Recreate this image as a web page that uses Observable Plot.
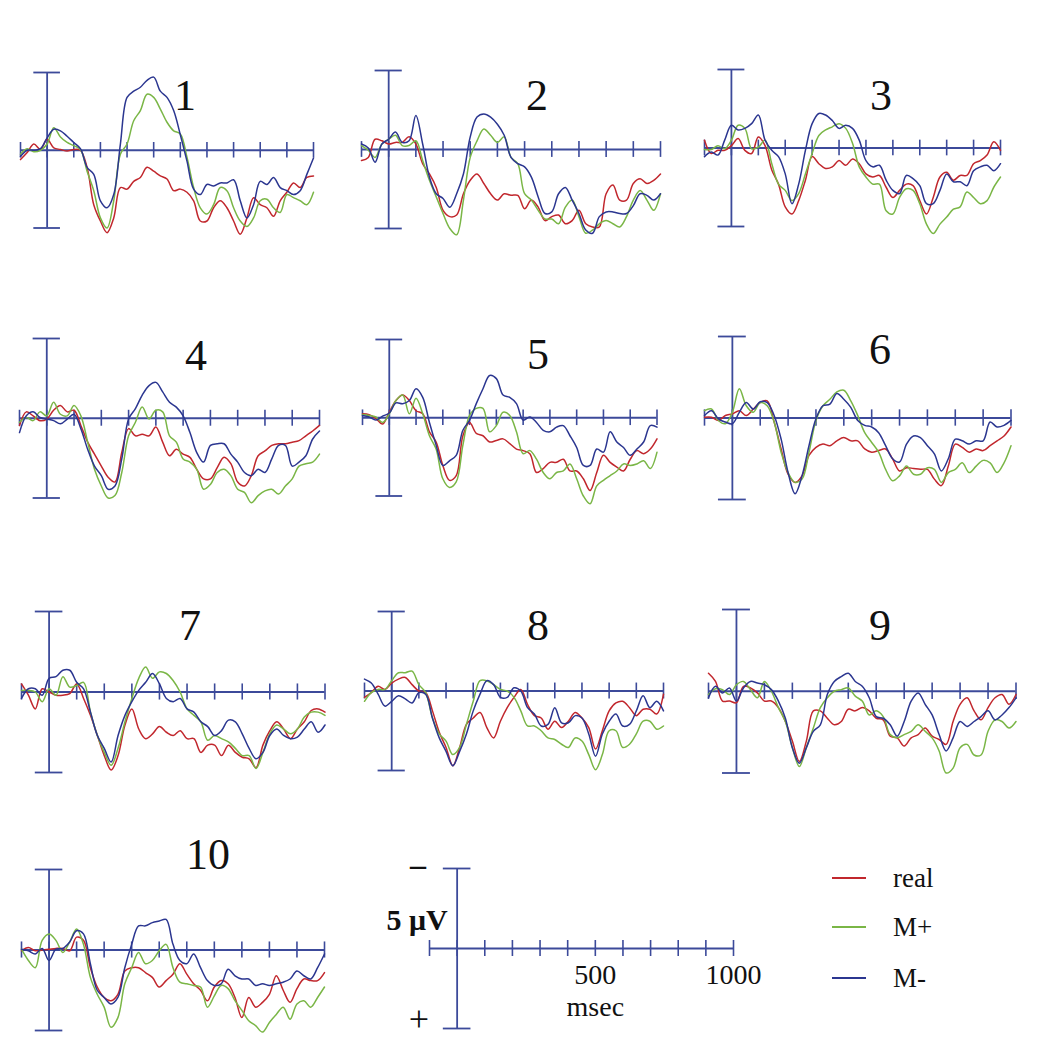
<!DOCTYPE html>
<html><head><meta charset="utf-8">
<script src="https://cdn.jsdelivr.net/npm/d3@7"></script>
<script src="https://cdn.jsdelivr.net/npm/@observablehq/plot@0.6"></script>
<style>
body{margin:0;background:#fff;}
#fig{position:relative;width:1037px;height:1050px;overflow:hidden;font-family:"Liberation Serif","DejaVu Serif",serif;color:#111;}
#fig svg{position:absolute;overflow:visible;background:none;}
.lbl{position:absolute;transform:translate(-50%,-50%);line-height:1;white-space:nowrap;font-family:"Liberation Serif","DejaVu Serif",serif;}
.title{font-size:44px;font-family:"Liberation Serif","DejaVu Serif",serif;}
.leg-line{position:absolute;height:2px;width:34px;}
.leg-text{position:absolute;font-size:27px;line-height:1;transform:translateY(-50%);font-family:"Liberation Serif","DejaVu Serif",serif;}
</style></head><body><div id="fig"></div>
<script>
// sample times (ms)
const times = [-100,-75,-50,-25,0,25,50,75,100,125,150,175,200,225,250,275,300,325,350,375,400,425,450,475,500,525,550,575,600,625,650,675,700,725,750,775,800,825,850,875,900,925,950,975,1000];
const ticksMs = [-100,0,100,200,300,400,500,600,700,800,900,1000];
const scaleLabels = [500, 1000];
const panelNames = ["1","2","3","4","5","6","7","8","9","10"];
const seriesNames = ["real","M+","M-"];
const seriesColors = ["#c1272d","#7ab646","#2b3690"];

// amplitudes in microvolts (negative plotted upward)
const real1 = [0.6,0.15,-0.4,-0.05,-0.7,-0.15,-0.05,0.05,-0.05,0,1.1,3.5,4.55,5.3,4.35,2.4,2.5,2.0,1.75,1.1,1.35,1.65,1.85,2.6,2.5,2.7,3.25,4.55,4.55,3.7,3.25,3.7,4.55,5.4,4.35,3.05,3.5,3.7,4.25,3.25,2.7,2.1,2.4,1.75,1.65];
const mPlus1 = [0.25,-0.1,0.1,0,-0.4,-1.45,-0.85,-0.5,-0.3,-0.05,1.35,2.6,4.35,5.0,3.25,0.25,-0.4,-1.9,-2.55,-3.6,-3.4,-2.65,-1.8,-1.25,-1.05,0.45,2.4,3.7,4.1,3.5,2.4,2.6,3.7,4.55,4.9,4.35,3.25,3.15,3.7,4.0,2.85,3.05,3.25,3.5,2.7];
const mMinus1 = [0.4,0,0,-0.1,-0.8,-1.35,-1.25,-0.9,-0.5,-0.1,1.1,1.55,3.25,3.7,2.85,-0.4,-3.4,-3.8,-4.05,-4.5,-4.7,-3.8,-3.4,-2.55,-1.0,0.7,2.5,2.85,2.2,2.3,2.1,2.1,1.9,3.25,4.35,3.5,2.0,2.2,1.75,2.4,2.6,2.85,2.6,1.55,0.5];

const real2 = [0.7,0.5,-0.65,-0.55,-0.35,-0.45,-0.45,-0.8,-0.35,0.9,1.55,2.4,3.85,4.25,4.15,2.8,1.95,1.55,2.15,2.8,3.2,2.8,2.9,2.9,3.75,3.2,3.65,4.5,4.25,4.15,4.7,4.5,3.85,4.7,4.9,4.9,2.8,2.25,3.2,3.2,2.15,1.85,2.15,1.95,1.55];
const mPlus2 = [-0.25,0.05,0.5,-0.35,-0.65,-0.9,-0.25,-0.25,-0.55,0.7,1.95,3.0,4.05,5.0,5.4,3.2,0.5,-0.55,-1.3,-0.9,-0.45,-0.8,0.5,0.9,2.8,3.2,3.85,4.4,4.4,4.7,3.65,3.2,4.25,5.3,5.1,4.7,4.5,4.7,4.9,4.25,3.2,2.6,3.2,3.85,2.8];
const mMinus2 = [-0.35,-0.1,0.8,-0.35,-0.65,-1.1,-0.45,-0.55,-2.15,-0.35,1.75,2.8,3.1,3.65,2.8,1.55,-0.8,-2.05,-2.25,-2.05,-1.6,-0.9,0.5,0.9,1.1,1.75,3.0,4.05,3.95,2.8,2.4,3.2,4.05,5.1,5.3,4.25,3.95,3.95,4.05,4.05,3.55,2.8,2.9,3.2,2.8];

const real3 = [-0.5,0.35,0.15,0.15,-0.15,-0.6,0.15,0.35,-0.7,-0.15,1.4,2.3,3.75,4.2,3.35,2.05,0.55,1.0,1.3,1.2,0.8,1.1,0.7,1.0,1.65,1.85,1.75,2.5,3.15,2.7,2.3,2.4,3.35,4.2,3.15,1.85,1.55,2.05,1.75,1.75,1.0,0.8,0.45,-0.4,0.15];
const mPlus3 = [0.1,0.1,-0.15,0.05,-0.5,-1.45,-1.25,0.05,-0.05,-0.5,1.0,2.3,2.7,3.35,2.9,1.65,0.35,-0.8,-1.15,-1.35,-1.55,-1.25,-0.3,1.2,1.85,2.3,2.3,4.0,4.2,3.15,2.6,2.7,3.55,4.85,5.45,4.85,4.4,3.9,3.75,2.8,3.15,3.55,3.35,2.5,1.85];
const mMinus3 = [0.55,0.25,0.45,-0.5,-1.45,-1.15,-1.25,-1.55,-2.1,-0.5,0.15,0.55,1.65,3.55,2.3,0.15,-1.55,-2.2,-2.1,-1.75,-1.25,-1.45,-1.25,-0.5,0.8,1.2,1.1,2.05,2.7,2.9,1.75,1.95,2.4,3.55,3.55,2.7,1.65,2.15,2.15,2.4,1.45,1.2,1.1,1.45,1.0];

const real4 = [0.45,-0.4,-0.15,0.15,0.05,-0.5,-0.8,-0.4,-0.5,0.45,1.5,2.25,3.0,3.7,4.0,2.15,0.65,1.1,1.0,1.1,0.55,1.5,2.35,1.95,2.25,2.45,3.2,3.8,3.8,3.1,2.45,2.85,4.0,4.25,3.6,2.35,2.05,1.7,1.6,1.6,1.5,1.4,1.1,0.8,0.45];
const mPlus4 = [0.25,-0.05,0.15,-0.4,-0.15,-1.0,-0.25,-0.15,-0.8,-0.15,1.5,3.2,4.25,5.0,4.85,3.4,1.1,0.25,-0.7,0.05,-0.5,-0.4,1.1,1.5,2.55,2.75,3.2,4.45,4.15,3.4,3.2,3.6,4.45,4.65,5.3,4.85,4.55,4.45,4.75,4.25,3.8,3.0,2.85,2.75,2.25];
const mMinus4 = [0.9,-0.15,-0.4,-0.05,0.05,0.15,0.35,0.05,-0.25,0.65,1.95,3.0,3.6,4.45,4.25,2.55,0.05,-0.6,-1.45,-2.05,-2.25,-1.65,-1.0,-0.7,-0.15,0.9,2.15,2.75,1.7,1.6,1.6,2.25,2.75,3.4,3.6,3.2,3.4,2.55,1.7,1.7,3.0,2.75,2.35,1.3,0.8];

const real5 = [-0.25,-0.2,0.05,0.4,-0.35,-1.1,-1.45,-1.1,-0.45,-0.25,0.9,1.55,3.05,4.0,3.7,1.15,0.3,1.0,1.15,1.55,1.45,1.35,1.65,2.0,2.1,2.3,3.5,3.25,2.85,2.85,2.65,3.4,3.4,3.9,4.65,3.5,2.4,2.85,3.15,3.4,2.65,2.1,2.3,2.0,1.35];
const mPlus5 = [-0.2,-0.15,-0.05,0.3,-0.25,-1.1,-1.45,-0.25,-1.25,-0.25,1.15,2.0,3.9,4.45,4.1,1.75,-0.15,-0.6,-0.6,0.9,0.5,-0.35,-0.15,0.9,2.3,2.1,2.65,3.5,3.9,3.5,3.4,2.95,3.9,5.0,5.5,4.35,4.0,3.7,3.4,2.95,3.05,2.95,2.75,3.25,2.2];
const mMinus5 = [-0.15,-0.05,0.15,-0.1,-0.3,-0.95,-0.9,-1.1,-1.85,-1.3,0.3,1.75,3.05,2.75,2.4,0.8,0.15,-0.9,-1.85,-2.7,-2.5,-1.45,-1.3,-0.9,0.15,-0.05,0.3,0.8,0.9,0.6,0.5,1.15,1.9,3.05,3.05,2.0,2.2,0.9,1.55,1.9,2.4,2.0,1.55,0.5,0.6];

const real6 = [-0.05,-0.05,0.15,-0.15,-0.25,-0.45,-0.15,-0.55,-0.95,-1.05,0.25,1.9,3.45,3.95,3.55,2.3,1.8,1.6,1.7,1.4,1.2,1.4,1.4,1.9,2.1,2.0,1.9,2.5,3.25,3.05,3.1,3.15,3.15,3.75,4.15,2.95,1.6,1.8,2.1,1.9,2.0,1.7,1.4,1.1,0.55];
const mPlus6 = [-0.45,-0.55,0.15,0.35,-0.35,-1.8,-0.75,-0.35,-0.95,-0.75,0.25,2.1,3.35,3.95,3.75,2.1,0.15,-0.75,-1.15,-1.6,-1.7,-1.05,-0.15,0.9,1.5,2.1,3.15,3.85,3.55,2.95,3.45,3.45,3.05,3.15,3.95,3.35,3.15,2.75,3.35,2.95,2.6,2.75,3.35,2.75,1.7];
const mMinus6 = [-0.15,-0.45,0.05,0.25,0.35,-0.35,-0.95,-0.55,-1.0,-0.95,-0.15,1.3,3.35,4.65,3.55,1.7,0.05,-0.75,-0.85,-1.5,-1.15,-0.65,0.15,0.45,0.55,0.9,1.7,2.5,2.7,1.6,1.1,1.2,1.7,2.2,3.25,2.5,1.3,1.4,1.6,1.4,1.4,0.25,0.55,0.45,0.15];

const real7 = [-0.5,0.2,1.05,-0.2,0,0.2,0.2,0.1,-0.5,0.4,1.45,2.7,3.95,4.85,3.95,2.05,1.05,2.3,2.9,2.6,2.15,2.5,2.7,2.4,2.9,2.9,3.75,3.3,3.3,3.95,3.3,3.75,4.05,4.15,4.7,3.3,2.4,1.85,2.3,2.9,2.3,1.85,1.15,1.05,1.25];
const mPlus7 = [-0.1,-0.1,0,0.6,-0.2,0.2,-0.95,-0.3,-0.4,-0.6,1.25,2.7,3.75,4.55,3.5,1.85,0.4,-0.85,-1.55,-0.85,-1.25,-1.15,-0.7,0,1.05,1.45,1.85,3.0,2.7,2.9,3.1,3.5,3.95,3.95,4.75,3.75,2.6,2.05,2.3,2.6,2.3,1.55,1.25,1.25,1.45];
const mMinus7 = [0.4,-0.2,-0.2,0.2,-0.85,-0.95,-1.35,-1.35,-0.6,-0.2,1.25,2.7,3.5,4.35,2.7,1.45,0.6,-0.1,-0.6,-1.15,-0.5,0.4,0.6,0.4,1.05,1.25,1.85,2.15,2.7,2.4,1.75,1.85,2.6,3.5,4.15,3.75,2.7,2.3,2.7,2.9,2.8,2.3,1.85,2.5,2.05];

const real8 = [0.4,0.1,-0.3,-0.1,-0.5,-0.75,-0.85,-0.4,0,0.1,1.25,2.6,3.55,4.7,3.55,2.1,1.7,1.35,2.3,2.95,1.9,1.05,0.4,-0.1,0.85,1.55,1.7,2.4,1.9,2.3,1.9,1.35,1.7,2.3,3.65,2.5,1.25,0.75,0.65,1.05,1.55,1.15,1.15,1.45,0.2];
const mPlus8 = [0.65,0.1,-0.1,-0.1,-0.65,-1.15,-1.15,-1.25,-0.4,0.1,1.7,2.7,3.15,4.0,3.55,2.1,0.65,-0.65,-0.65,-0.4,-0.1,0,0.4,1.25,2.2,2.2,2.5,2.95,3.05,3.35,3.55,2.95,3.15,4.0,4.95,4.0,2.5,2.5,3.55,3.35,2.7,1.9,1.9,2.4,2.2];
const mMinus8 = [-0.75,-0.5,0.2,0.95,0.65,0.3,0.5,0.75,0.1,0.2,1.7,2.95,3.8,4.7,3.8,2.7,1.25,0.2,-0.65,-0.4,0.4,0.4,-0.2,0,1.05,1.45,2.2,2.1,1.05,2.0,2.0,1.55,1.7,2.7,4.1,2.7,1.9,1.45,2.2,2.1,1.25,0.3,1.05,0.65,1.25];

const real9 = [-1.1,-0.6,0.6,0.6,0.7,-0.3,-0.2,0.1,0.6,0.6,1.0,1.85,3.05,4.3,3.05,1.2,1.2,1.65,2.05,1.85,1.1,1.2,1.0,1.2,1.65,1.75,2.75,2.85,3.35,2.85,2.65,2.25,2.75,2.95,3.25,1.85,0.8,0.4,1.2,1.75,1.0,0.4,0.2,0.8,0.2];
const mPlus9 = [0.2,-0.15,-0.1,0.2,-0.4,-0.6,-0.1,0.4,-0.6,0,1.0,1.85,3.45,4.6,3.45,2.25,1.0,0.4,0,-0.1,-0.2,0.3,0.6,1.45,1.2,1.55,2.65,2.85,2.65,2.45,2.05,2.45,2.85,3.65,5.0,4.7,3.45,3.25,3.9,3.9,2.45,1.75,1.85,2.25,1.85];
const mMinus9 = [0.4,-0.3,0.1,-0.2,0.6,-0.2,-0.6,-0.5,-0.4,-0.1,0.6,1.65,3.45,4.4,3.45,2.45,2.05,0.2,-0.6,-0.9,-1.1,-0.6,-0.3,0.4,1.55,1.65,2.05,2.75,1.85,0.6,0.1,0.8,1.45,2.65,3.65,2.85,1.85,2.15,1.85,1.55,1.2,1.75,1.45,1.0,0.4];

const real10 = [0.05,-0.15,0.05,0,-0.05,-0.1,-0.1,0.05,-0.8,-0.6,1.1,2.3,2.95,3.15,2.75,1.3,1.1,1.1,1.4,1.7,2.3,1.9,1.5,0.85,1.5,2.1,2.5,3.15,2.3,1.9,2.1,2.95,4.2,2.95,3.55,3.25,2.75,1.6,2.5,3.25,2.4,1.8,1.9,1.9,1.4];
const mPlus10 = [-0.05,0.65,1.1,-0.6,-1.0,-0.6,0.15,-0.5,-1.3,-0.35,1.7,2.75,3.55,4.8,4.2,2.1,1.1,0.15,0.85,0.65,0.05,-0.35,1.1,2.0,2.1,2.2,2.3,3.55,2.85,2.2,2.4,3.15,3.75,4.4,4.7,5.1,4.5,4.0,3.55,4.3,3.35,3.15,3.55,2.95,2.3];
const mMinus10 = [-0.05,0.05,0.25,-0.1,0.65,-0.05,-0.1,-0.5,-1.2,-1.0,0.85,2.5,2.95,3.35,2.95,1.1,-0.35,-1.5,-1.5,-1.7,-1.8,-1.9,-0.35,0.65,0.85,0.25,1.1,1.9,2.2,2.1,1.2,1.6,1.8,1.8,2.2,2.1,2.2,2.1,2.0,1.8,1.3,1.6,1.8,1.1,0.25];

const panelSeries = [
  [real1,mPlus1,mMinus1],[real2,mPlus2,mMinus2],[real3,mPlus3,mMinus3],
  [real4,mPlus4,mMinus4],[real5,mPlus5,mMinus5],[real6,mPlus6,mMinus6],
  [real7,mPlus7,mMinus7],[real8,mPlus8,mMinus8],[real9,mPlus9,mMinus9],
  [real10,mPlus10,mMinus10]
];

// page layout (pixel frame of each panel: x of -100 ms / 1000 ms, y of -5 / +5 µV; title centre)
const layout = [
  {x0:19.5, x1:312.5, y0:71.5, y1:227, tx:185, ty:96},
  {x0:361, x1:660, y0:70, y1:228, tx:537, ty:96},
  {x0:703.5, x1:999.5, y0:69, y1:226, tx:881, ty:96},
  {x0:19, x1:319, y0:337.5, y1:497, tx:196, ty:356},
  {x0:361.5, x1:656, y0:339, y1:495.5, tx:538, ty:355},
  {x0:704, x1:1010.5, y0:335.5, y1:498.5, tx:880, ty:350},
  {x0:20.5, x1:324, y0:610.5, y1:771.5, tx:190, ty:626},
  {x0:363.5, x1:662.5, y0:611, y1:770, tx:538, ty:626},
  {x0:707.5, x1:1015, y0:609, y1:772.5, tx:880, ty:626},
  {x0:21, x1:324, y0:869, y1:1030, tx:208, ty:855}
];
const scaleLayout = {x0:429, x1:733, y0:868, y1:1028};

const axisColor = "#3c4a9a";
const fig = document.getElementById("fig");

function axisMarks() {
  return [
    Plot.ruleY([0], {x1: ticksMs[0], x2: ticksMs[ticksMs.length-1], stroke: axisColor, strokeWidth: 1.8}),
    Plot.ruleX(ticksMs, {y1: -0.5, y2: 0.5, stroke: axisColor, strokeWidth: 1.6}),
    Plot.ruleX([0], {y1: -5, y2: 5, stroke: axisColor, strokeWidth: 1.8}),
    Plot.ruleY([-5, 5], {x1: -50, x2: 50, stroke: axisColor, strokeWidth: 1.8})
  ];
}

function place(svg, L, m) {
  svg.style.left = (L.x0 - m) + "px";
  svg.style.top = (L.y0 - m) + "px";
  fig.appendChild(svg);
}

function makePlot(L, extraMarks) {
  const m = 30;
  return Plot.plot({
    width: L.x1 - L.x0 + 2*m,
    height: L.y1 - L.y0 + 2*m,
    margin: m,
    style: {background: "none", overflow: "visible"},
    x: {domain: [ticksMs[0], ticksMs[ticksMs.length-1]], axis: null},
    y: {domain: [-5, 5], reverse: true, axis: null},
    color: {domain: seriesNames, range: seriesColors},
    marks: axisMarks().concat(extraMarks)
  });
}

layout.forEach((L, i) => {
  const rows = [];
  seriesNames.forEach((s, k) => {
    panelSeries[i][k].forEach((v, j) => rows.push({t: times[j], v, s}));
  });
  const svg = makePlot(L, [
    Plot.line(rows, {x: "t", y: "v", z: "s", stroke: "s", strokeWidth: 1.5, curve: "catmull-rom"})
  ]);
  place(svg, L, 30);
  const t = document.createElement("div");
  t.className = "lbl title";
  t.textContent = panelNames[i];
  t.style.left = L.tx + "px";
  t.style.top = L.ty + "px";
  fig.appendChild(t);
});

// scale-bar panel
{
  const svg = makePlot(scaleLayout, [
    Plot.text(scaleLabels, {x: d => d, y: 0, dy: 27, text: d => String(d), fontSize: 28, fill: "#111", fontFamily: "Liberation Serif"}),
    Plot.text(["msec"], {x: scaleLabels[0], y: 0, dy: 59, text: d => d, fontSize: 28, fill: "#111", fontFamily: "Liberation Serif"})
  ]);
  place(svg, scaleLayout, 30);
  const labels = [
    {text: "\u2013", x: 418, y: 864, size: 32, bold: true},
    {text: "5 \u03bcV", x: 417, y: 920, size: 30, bold: true},
    {text: "+", x: 419, y: 1019, size: 36, bold: false}
  ];
  labels.forEach(d => {
    const e = document.createElement("div");
    e.className = "lbl";
    e.textContent = d.text;
    e.style.left = d.x + "px"; e.style.top = d.y + "px";
    e.style.fontSize = d.size + "px";
    e.style.fontWeight = d.bold ? "bold" : "normal";
    fig.appendChild(e);
  });
}

// legend
seriesNames.forEach((s, k) => {
  const y = [878, 927, 978][k];
  const ln = document.createElement("div");
  ln.className = "leg-line";
  ln.style.left = "832px"; ln.style.top = (y - 1) + "px";
  ln.style.background = seriesColors[k];
  fig.appendChild(ln);
  const tx = document.createElement("div");
  tx.className = "leg-text";
  tx.textContent = s;
  tx.style.left = "893px"; tx.style.top = y + "px";
  fig.appendChild(tx);
});
</script></body></html>
